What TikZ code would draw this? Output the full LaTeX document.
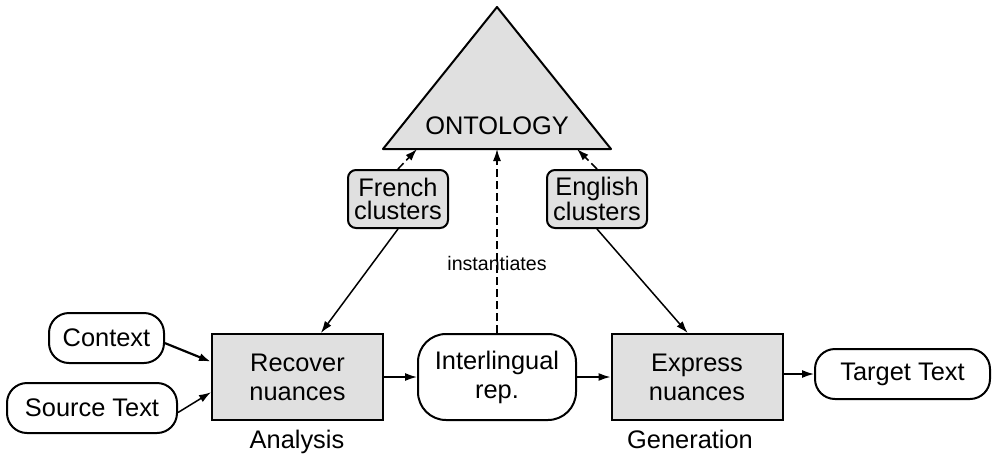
\documentclass[tikz,border=0pt]{standalone}
\usepackage{fontspec}
\setmainfont{Liberation Sans}
\usetikzlibrary{arrows.meta}
\definecolor{boxgray}{RGB}{224,224,224}
\begin{document}
\begin{tikzpicture}[x=0.5pt,y=-0.5pt,
  every node/.style={font=\fontsize{12.7}{14.5}\selectfont, inner sep=0pt, align=center},
  proc/.style={draw, line width=1pt, fill=boxgray, minimum width=85.5pt, minimum height=43pt},
  clus/.style={draw, line width=1pt, fill=boxgray, rounded corners=4pt, minimum width=50pt, minimum height=29pt, font=\fontsize{12.7}{11.6}\selectfont},
  pill/.style={draw, line width=1pt, rounded corners=10pt, minimum height=25pt},
  lbl/.style={anchor=base},
  arr/.style={-{Latex[length=6pt,width=4pt]}, line width=0.75pt},
  darr/.style={arr, dash pattern=on 4pt off 2pt}]
\useasboundingbox (0,0) rectangle (992,457);
% ontology triangle
\draw[line width=1pt, fill=boxgray, line join=round] (497,7) -- (611,149) -- (383,149) -- cycle;
\node (ont) at (497,126) {ONTOLOGY};
\coordinate (ontF) at (417,149);
\coordinate (ontE) at (577,149);
\coordinate (ontM) at (497,149);
% nodes
\node[clus] (fr) at (398,199) {French\\clusters};
\node[clus] (en) at (597,199) {English\\clusters};
\node[proc] (rec) at (297.5,377) {Recover\\nuances};
\node[proc] (exp) at (697,377) {Express\\nuances};
\node[draw, line width=1pt, rounded corners=14pt, minimum width=79pt, minimum height=43pt] (int) at (497,377) {Interlingual\\rep.};
\node[pill, minimum width=57.5pt] (ctx) at (106.5,338) {Context};
\node[pill, minimum width=85pt] (src) at (92,408) {Source Text};
\node[pill, minimum width=87.5pt] (tgt) at (902.5,374) {Target Text};
\node[lbl] (ana) at (297,448) {Analysis};
\node[lbl] (gen) at (690,448) {Generation};
\node[font=\fontsize{9.8}{11}\selectfont] (inst) at (497,263) {instantiates};
% connectors
\draw[darr] (fr.north) -- (ontF);
\draw[darr] (en.north) -- (ontE);
\draw[darr] (int.north) -- (ontM);
\draw[arr] (fr.south) -- (rec.62);
\draw[arr] (en.south) -- (exp.102);
\draw[arr, line width=1.1pt] (ctx.-5) -- (rec.170);
\draw[arr] (src.-3) -- (rec.190);
\draw[arr] (rec.east) -- (int.west);
\draw[arr] (int.east) -- (exp.west);
\draw[arr] (exp.east |- tgt.west) -- (tgt.west);
\end{tikzpicture}
\end{document}
